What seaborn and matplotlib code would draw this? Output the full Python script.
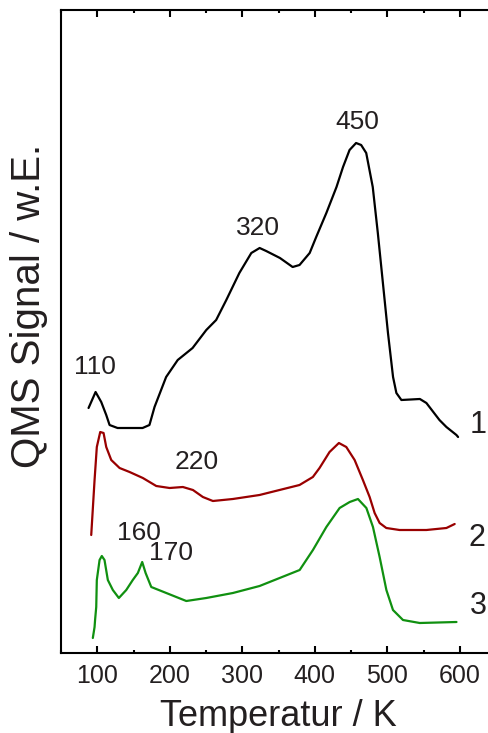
import matplotlib
matplotlib.use("Agg")
import matplotlib.pyplot as plt
from matplotlib.ticker import MultipleLocator
import numpy as np
import pandas as pd
import seaborn as sns

# Thermal desorption spectra (QMS signal, arbitrary units) vs temperature
temp_1 = [88, 97.7, 105.5, 112.4, 117, 128, 162.5, 172, 179, 195, 211, 231.5, 250.4,
          264, 278, 296, 312.5, 324, 333, 352, 369.5, 379, 393, 402, 416, 430, 439,
          448, 457, 464, 471, 480, 487, 494, 501, 508, 512.6, 519.5, 545, 554, 572,
          581.6, 595.4, 597.7]
signal_1 = [245, 261, 251, 238, 228, 225, 225, 228, 246, 276, 293, 305, 323,
            333, 353, 380, 400, 405, 402, 395, 386, 388, 400, 416, 440, 466, 486,
            503, 510, 508, 500, 466, 420, 370, 320, 276, 260, 253, 254, 250, 233,
            226, 218, 216]

temp_2 = [91.7, 96.3, 99.4, 104.1, 108.7, 112.4, 119.3, 130.8, 144.6, 162.9, 181.4,
          199.8, 218.1, 232, 245.7, 259.5, 287, 323.8, 379, 397.4, 406.6, 420.4,
          433.3, 443.5, 455, 466.4, 475.7, 482.6, 489.5, 498.7, 517, 554, 581.6, 593]
signal_2 = [118, 173, 206, 221, 220, 206, 193, 185, 181, 175, 167,
            165, 166, 163, 156, 152, 154, 158, 168, 176, 185, 201,
            210, 206, 193, 173, 156, 140, 130, 125, 123, 123, 125, 129]

temp_3 = [93.9, 96.3, 97.0, 98.6, 99.4, 103.2, 106.3, 110, 114.6, 121.5, 129.8, 140,
          149, 156, 162, 166.7, 174.5, 195.2, 222.8, 250.4, 287.1, 323.9, 379.2,
          397.5, 416, 434.3, 448.2, 459.6, 471.2, 480.3, 489.5, 498.8, 507.9, 521.7,
          544.8, 595.5]
signal_3 = [15, 26, 33, 46, 73, 93, 97, 93, 73, 63, 55, 63,
            73, 80, 91, 80, 66, 60, 52, 55, 60, 67, 83,
            103, 126, 145, 151, 154, 145, 126, 96, 63, 43, 33,
            30, 31]

series_names = ["1", "2", "3"]
series_colors = ["#000000", "#990000", "#109010"]
series_label_temp = [625, 624, 625]
series_label_signal = [228, 115, 47]

peak_labels = ["110", "320", "450", "220", "160", "170"]
peak_label_temp = [97, 321.5, 458.8, 236.5, 158, 202]
peak_label_signal = [286, 425, 531, 191, 120.5, 100]

x_label = "Temperatur / K"
y_label = "QMS Signal / w.E."

frames = []
for name, t, s in zip(series_names, [temp_1, temp_2, temp_3],
                      [signal_1, signal_2, signal_3]):
    frames.append(pd.DataFrame({"T": t, "S": s, "curve": name}))
df = pd.concat(frames, ignore_index=True)

sns.set_theme(style="ticks")
plt.rcParams["font.family"] = ["Liberation Sans", "DejaVu Sans"]
text_color = "#231f20"

fig = plt.figure(figsize=(4.88, 7.33), dpi=100)
ax = fig.add_axes([61 / 488, 80 / 733, 435 / 488, 643 / 733])

sns.lineplot(data=df, x="T", y="S", hue="curve", palette=series_colors,
             estimator=None, sort=False, linewidth=1.6, legend=False, ax=ax)

ax.set_xlim(50, 650)
ax.set_ylim(0, 643)

for lab, tx, sy in zip(peak_labels, peak_label_temp, peak_label_signal):
    ax.text(tx, sy, lab, fontsize=19, color=text_color, ha="center", va="center")

# curve numbers next to the right end of each trace
for name, tx, sy in zip(series_names, series_label_temp, series_label_signal):
    ax.text(tx, sy, name, fontsize=22, color=text_color, ha="center", va="center")

ax.xaxis.set_major_locator(MultipleLocator(100))
ax.xaxis.set_minor_locator(MultipleLocator(50))
ax.set_xticks([100, 200, 300, 400, 500, 600])
ax.set_yticks([])
ax.tick_params(axis="x", which="both", direction="in", top=True, bottom=True,
               width=1.5, colors="black", labelcolor=text_color, labelsize=18,
               pad=8)
ax.tick_params(axis="x", which="major", length=5)
ax.tick_params(axis="x", which="minor", length=2.5)
for sp in ax.spines.values():
    sp.set_linewidth(1.5)
    sp.set_color("black")

ax.set_xlabel(x_label, fontsize=26, color=text_color, labelpad=8)
ax.set_ylabel(y_label, fontsize=29, color=text_color, va="center")
ax.yaxis.set_label_coords(-0.074, 0.54)

fig.savefig("out.png", dpi=100)
